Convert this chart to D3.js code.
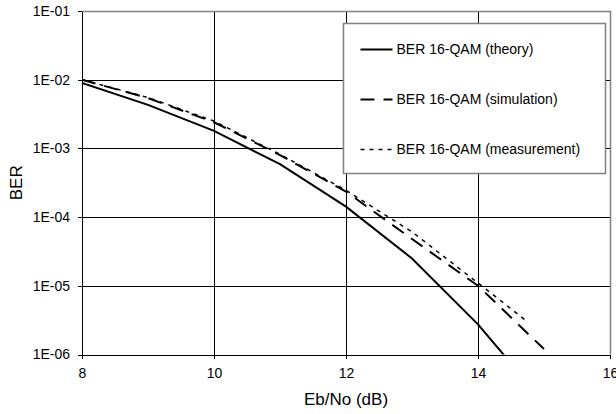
<!DOCTYPE html>
<html>
<head>
<meta charset="utf-8">
<script src="https://cdn.jsdelivr.net/npm/d3@7"></script>
<style>
    body { margin: 0; background: #fff; }
    svg { display: block; font-family: "Liberation Sans", Arial, sans-serif; }
    .grid line { stroke: #000; stroke-width: 1; shape-rendering: crispEdges; }
    .axis path, .axis line { stroke: #000; shape-rendering: crispEdges; }
    .axis text { font-size: 14px; fill: #000; }
</style>
</head>
<body>
<svg id="chart" width="616" height="414"></svg>
<script>
// Eb/No (dB) sample points
const ebnoTheory = [8, 9, 10, 11, 12, 13, 14, 15];
const berTheory = [9.0e-3, 4.3e-3, 1.8e-3, 5.9e-4, 1.42e-4, 2.5e-5, 2.75e-6, 2.0e-7];

const ebnoSim = [8, 9, 10, 11, 12, 13, 14, 15];
const berSim = [1.0e-2, 5.4e-3, 2.4e-3, 8.0e-4, 2.35e-4, 4.8e-5, 1.0e-5, 1.2e-6];

const ebnoMeas = [8, 9, 10, 11, 12, 13, 14, 14.75];
const berMeas = [1.0e-2, 5.5e-3, 2.5e-3, 8.2e-4, 2.45e-4, 6.1e-5, 1.1e-5, 3.0e-6];

const xTicks = [8, 10, 12, 14, 16];
const yTicks = [1e-1, 1e-2, 1e-3, 1e-4, 1e-5, 1e-6];
const yTickLabels = ['1E-01', '1E-02', '1E-03', '1E-04', '1E-05', '1E-06'];

const seriesNames = ['BER 16-QAM (theory)', 'BER 16-QAM (simulation)', 'BER 16-QAM (measurement)'];

const margin = { top: 11, left: 82, right: 6, bottom: 59.5 };
const width = 616, height = 414;

const svg = d3.select('#chart');

const x = d3.scaleLinear().domain([8, 16]).range([margin.left, width - margin.right]);
const y = d3.scaleLog().domain([1e-6, 1e-1]).range([height - margin.bottom, margin.top]);

// clip so the theory curve stops at the bottom axis
svg.append('clipPath').attr('id', 'plot-clip')
    .append('rect')
    .attr('x', x(8)).attr('y', y(1e-1))
    .attr('width', x(16) - x(8)).attr('height', y(1e-6) - y(1e-1));

// gridlines
svg.append('g').attr('class', 'grid')
    .selectAll('line.h')
    .data(yTicks.slice(1, -1))
    .join('line')
    .attr('x1', x(8)).attr('x2', x(16))
    .attr('y1', d => Math.round(y(d)) + 0.5).attr('y2', d => Math.round(y(d)) + 0.5);

svg.append('g').attr('class', 'grid')
    .selectAll('line.v')
    .data(xTicks.slice(1, -1))
    .join('line')
    .attr('y1', y(1e-1)).attr('y2', y(1e-6))
    .attr('x1', d => Math.round(x(d)) + 0.5).attr('x2', d => Math.round(x(d)) + 0.5);

// plot border (top + right, grey)
svg.append('path')
    .attr('d', `M${x(8)},${Math.round(y(1e-1)) + 0.5}H${Math.round(x(16)) + 0.5}V${y(1e-6)}`)
    .attr('fill', 'none')
    .attr('stroke', '#808080')
    .attr('stroke-width', 1.5);

// axes
const yFmt = d => yTickLabels[yTicks.indexOf(d)];
svg.append('g').attr('class', 'axis')
    .attr('transform', `translate(${x(8)},0)`)
    .call(d3.axisLeft(y).tickValues(yTicks).tickFormat(yFmt).tickSize(4).tickSizeOuter(0).tickPadding(8));

svg.append('g').attr('class', 'axis')
    .attr('transform', `translate(0,${Math.round(y(1e-6))})`)
    .call(d3.axisBottom(x).tickValues(xTicks).tickFormat(d3.format('d')).tickSize(4).tickSizeOuter(0).tickPadding(9));

// axis titles
svg.append('text')
    .attr('x', (x(8) + x(16)) / 2)
    .attr('y', 405)
    .attr('text-anchor', 'middle')
    .attr('font-size', 17)
    .text('Eb/No (dB)');

svg.append('text')
    .attr('transform', `translate(22,${(y(1e-1) + y(1e-6)) / 2}) rotate(-90)`)
    .attr('text-anchor', 'middle')
    .attr('font-size', 17)
    .text('BER');

// series
const line = d3.line().x(d => x(d[0])).y(d => y(d[1]));
const series = [
    { pts: d3.zip(ebnoTheory, berTheory), dash: null, w: 2 },
    { pts: d3.zip(ebnoSim, berSim), dash: '14,9', w: 2 },
    { pts: d3.zip(ebnoMeas, berMeas), dash: '4,5', w: 1.5 }
];

svg.append('g')
    .attr('clip-path', 'url(#plot-clip)')
    .selectAll('path')
    .data(series)
    .join('path')
    .attr('d', d => line(d.pts))
    .attr('fill', 'none')
    .attr('stroke', '#000')
    .attr('stroke-width', d => d.w)
    .attr('stroke-dasharray', d => d.dash);

// legend
const legend = svg.append('g').attr('transform', 'translate(343.5,23.5)');
legend.append('rect')
    .attr('width', 262).attr('height', 150)
    .attr('fill', '#fff')
    .attr('stroke', '#808080')
    .attr('stroke-width', 1.5);

const items = legend.selectAll('g.item')
    .data(series)
    .join('g')
    .attr('transform', (d, i) => `translate(0,${26 + i * 50})`);

items.append('line')
    .attr('x1', 17).attr('x2', 49)
    .attr('stroke', '#000')
    .attr('stroke-width', d => d.w)
    .attr('stroke-dasharray', d => d.dash);

items.append('text')
    .attr('x', 53)
    .attr('dy', '0.35em')
    .attr('font-size', 14)
    .text((d, i) => seriesNames[i]);
</script>
</body>
</html>
